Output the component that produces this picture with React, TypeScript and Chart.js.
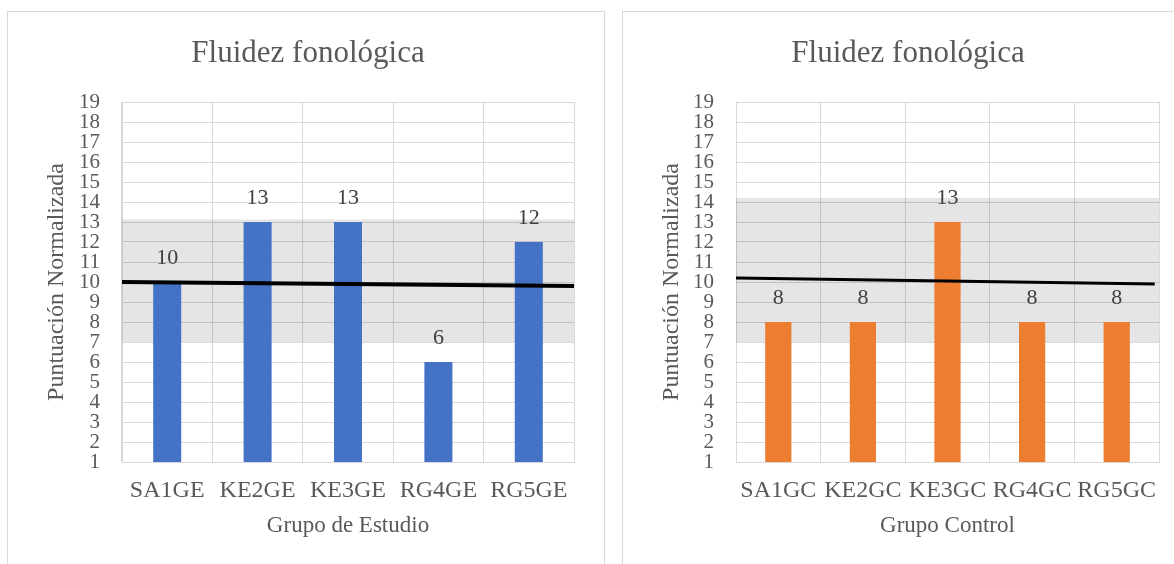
import { useEffect, useRef } from "react";
import { Chart, registerables } from "chart.js";

Chart.register(...registerables);

// Shared texts
const chartTitle = "Fluidez fonológica";
const yAxisTitle = "Puntuación Normalizada";
const yMin = 1;
const yMax = 19;

// Grupo de Estudio
const studyLabels = ["SA1GE", "KE2GE", "KE3GE", "RG4GE", "RG5GE"];
const studyScores = [10, 13, 13, 6, 12];
const studyBand = [7, 13.13]; // shaded range: lower, upper
const studyTrendX = [0, 1];
const studyTrendY = [10.0, 9.8];

// Grupo Control
const controlLabels = ["SA1GC", "KE2GC", "KE3GC", "RG4GC", "RG5GC"];
const controlScores = [8, 8, 13, 8, 8];
const controlBand = [7, 14.2];
const controlTrendX = [0, 0.99];
const controlTrendY = [10.2, 9.9];

const FONT = "'Liberation Serif', 'Times New Roman', serif";
const TEXT = "#595959";
const GRID = "#D9D9D9";

const valueLabels = {
  id: "valueLabels",
  afterDatasetsDraw(chart: any) {
    const meta = chart.getDatasetMeta(0);
    const values = chart.data.datasets[0].data as number[];
    const ctx = chart.ctx;
    ctx.save();
    ctx.font = `22px ${FONT}`;
    ctx.fillStyle = "#404040";
    ctx.textAlign = "center";
    ctx.textBaseline = "middle";
    meta.data.forEach((bar: any, i: number) => {
      ctx.fillText(String(values[i]), bar.x, bar.y - 24);
    });
    ctx.restore();
  },
};

type PanelProps = {
  labels: string[];
  scores: number[];
  color: string;
  band: number[];
  trendX: number[];
  trendY: number[];
  trendWidth: number;
  xTitle: string;
  width: number;
  height: number;
  yAxisWidth: number;
  padRight: number;
};

function Panel(p: PanelProps) {
  const ref = useRef<HTMLCanvasElement | null>(null);

  useEffect(() => {
    if (!ref.current) return;
    const chart = new Chart(ref.current, {
      type: "bar",
      data: {
        labels: p.labels,
        datasets: [
          {
            type: "bar",
            data: p.scores,
            backgroundColor: p.color,
            barPercentage: 0.31,
            categoryPercentage: 1,
            grouped: false,
            xAxisID: "x",
            order: 2,
          } as any,
          {
            type: "line",
            data: [
              { x: 0, y: p.band[0] },
              { x: 1, y: p.band[0] },
            ],
            borderWidth: 0,
            pointRadius: 0,
            fill: false,
            xAxisID: "x2",
            order: 3,
          } as any,
          {
            type: "line",
            data: [
              { x: 0, y: p.band[1] },
              { x: 1, y: p.band[1] },
            ],
            borderWidth: 0,
            pointRadius: 0,
            fill: "-1",
            backgroundColor: "rgba(0,0,0,0.1)",
            xAxisID: "x2",
            order: 3,
          } as any,
          {
            type: "line",
            data: p.trendX.map((x, i) => ({ x, y: p.trendY[i] })),
            borderColor: "#000000",
            borderWidth: p.trendWidth,
            pointRadius: 0,
            fill: false,
            xAxisID: "x2",
            order: 1,
          } as any,
        ],
      },
      options: {
        responsive: false,
        animation: false,
        events: [],
        layout: { padding: { left: 34, right: p.padRight, top: 0, bottom: 0 } },
        plugins: {
          legend: { display: false },
          tooltip: { enabled: false },
          title: {
            display: true,
            text: chartTitle,
            color: TEXT,
            font: { family: FONT, size: 31, weight: "normal" },
            padding: { top: 23, bottom: 29.8 },
          },
        },
        scales: {
          x: {
            type: "category",
            grid: { color: GRID, drawTicks: false },
            border: { color: GRID },
            ticks: {
              color: TEXT,
              font: { family: FONT, size: 24 },
              padding: 14,
              maxRotation: 0,
              autoSkip: false,
            },
            title: {
              display: true,
              text: p.xTitle,
              color: TEXT,
              font: { family: FONT, size: 23 },
              padding: { top: 0, bottom: 24 },
            },
            afterFit: (s: any) => {
              s.height = 102;
            },
          },
          x2: {
            type: "linear",
            display: false,
            offset: false,
            min: 0,
            max: 1,
          },
          y: {
            type: "linear",
            min: yMin,
            max: yMax,
            grid: { color: GRID, drawTicks: false },
            border: { color: GRID },
            ticks: {
              stepSize: 1,
              autoSkip: false,
              color: TEXT,
              font: { family: FONT, size: 21 },
              padding: 22,
            },
            title: {
              display: true,
              text: yAxisTitle,
              color: TEXT,
              font: { family: FONT, size: 24 },
              padding: 0,
            },
            afterFit: (s: any) => {
              s.width = p.yAxisWidth;
            },
          },
        },
      } as any,
      plugins: [valueLabels],
    });
    return () => chart.destroy();
  }, []);

  return (
    <canvas
      ref={ref}
      width={p.width}
      height={p.height}
      style={{ display: "block", width: p.width, height: p.height }}
    />
  );
}

export default function App() {
  return (
    <div
      style={{
        position: "fixed",
        inset: 0,
        overflow: "hidden",
        background: "#ffffff",
      }}
    >
      <div
        style={{
          position: "absolute",
          left: 7,
          top: 11,
          width: 598,
          height: 700,
          border: `1px solid ${GRID}`,
          boxSizing: "border-box",
        }}
      >
        <Panel
          labels={studyLabels}
          scores={studyScores}
          color="#4472C4"
          band={studyBand}
          trendX={studyTrendX}
          trendY={studyTrendY}
          trendWidth={4}
          xTitle="Grupo de Estudio"
          width={596}
          height={552}
          yAxisWidth={80}
          padRight={30}
        />
      </div>
      <div
        style={{
          position: "absolute",
          left: 622,
          top: 11,
          width: 569,
          height: 700,
          border: `1px solid ${GRID}`,
          boxSizing: "border-box",
        }}
      >
        <Panel
          labels={controlLabels}
          scores={controlScores}
          color="#ED7D31"
          band={controlBand}
          trendX={controlTrendX}
          trendY={controlTrendY}
          trendWidth={3}
          xTitle="Grupo Control"
          width={567}
          height={552}
          yAxisWidth={79}
          padRight={31}
        />
      </div>
    </div>
  );
}
